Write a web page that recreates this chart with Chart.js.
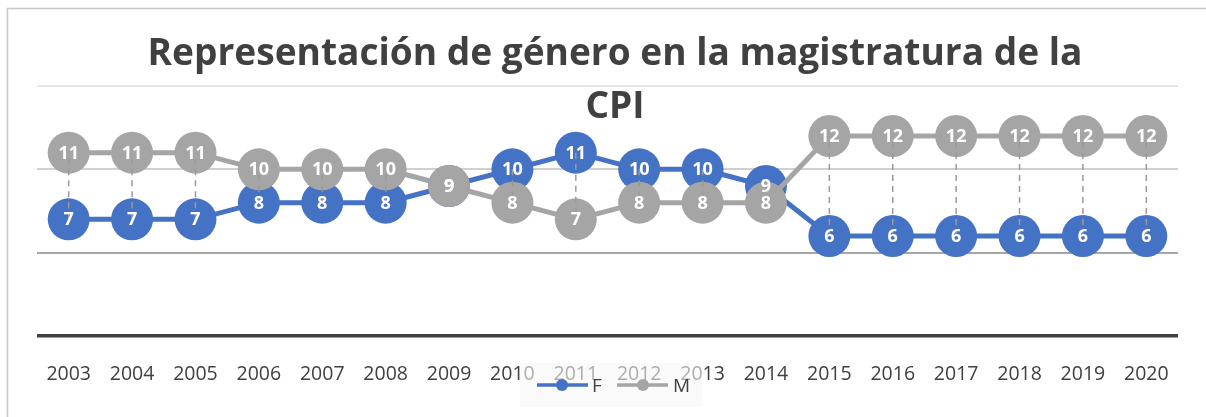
<!DOCTYPE html>
<html>
<head>
<meta charset="utf-8">
<script src="https://cdn.jsdelivr.net/npm/chart.js@4/dist/chart.umd.min.js"></script>
<style>
html,body{margin:0;padding:0;background:#fff;}
canvas{display:block;}
</style>
</head>
<body>
<canvas id="c" width="1206" height="417"></canvas>
<script>
const titleLines = ["Representación de género en la magistratura de la", "CPI"];
const years = ["2003","2004","2005","2006","2007","2008","2009","2010","2011","2012","2013","2014","2015","2016","2017","2018","2019","2020"];
const seriesF = [7,7,7,8,8,8,9,10,11,10,10,9,6,6,6,6,6,6];
const seriesM = [11,11,11,10,10,10,9,8,7,8,8,8,12,12,12,12,12,12];
const seriesNames = ["F", "M"];
const colorF = "#4472C4";
const colorM = "#A5A5A5";
const FONT = "'Open Sans', 'Liberation Sans', sans-serif";

const framePlugin = {
  id: 'frame',
  beforeDraw(chart) {
    const ctx = chart.ctx;
    ctx.save();
    ctx.fillStyle = '#fff';
    ctx.fillRect(0, 0, chart.width, chart.height);
    ctx.strokeStyle = '#c8c8c8';
    ctx.lineWidth = 1.5;
    ctx.beginPath();
    ctx.moveTo(7.5, chart.height);
    ctx.lineTo(7.5, 8.5);
    ctx.lineTo(chart.width, 8.5);
    ctx.stroke();
    ctx.restore();
  }
};

const overlayPlugin = {
  id: 'overlay',
  afterDatasetsDraw(chart) {
    const ctx = chart.ctx;
    const mF = chart.getDatasetMeta(0);
    const mM = chart.getDatasetMeta(1);
    ctx.save();
    // drop lines
    ctx.strokeStyle = '#9a9a9a';
    ctx.lineWidth = 1.5;
    ctx.setLineDash([6, 5]);
    for (let i = 0; i < mF.data.length; i++) {
      const a = mF.data[i], b = mM.data[i];
      if (Math.abs(a.y - b.y) < 1) continue;
      ctx.beginPath();
      ctx.moveTo(a.x, a.y);
      ctx.lineTo(b.x, b.y);
      ctx.stroke();
    }
    ctx.setLineDash([]);
    // data labels
    ctx.fillStyle = '#fff';
    ctx.font = "bold 18px " + FONT;
    ctx.textAlign = 'center';
    ctx.textBaseline = 'middle';
    [[mF, seriesF], [mM, seriesM]].forEach(([meta, vals]) => {
      meta.data.forEach((p, i) => ctx.fillText(String(vals[i]), p.x, p.y + 1));
    });
    ctx.restore();
  },
  afterDraw(chart) {
    const ctx = chart.ctx;
    ctx.save();
    // title
    ctx.fillStyle = '#404040';
    ctx.textAlign = 'center';
    ctx.textBaseline = 'alphabetic';
    let fs = 36;
    ctx.font = "bold " + fs + "px " + FONT;
    const w = ctx.measureText(titleLines[0]).width;
    fs = fs * 935 / w;
    ctx.font = "bold " + fs.toFixed(2) + "px " + FONT;
    ctx.fillText(titleLines[0], 615, 65);
    ctx.fillText(titleLines[1], 615, 118);
    // legend
    ctx.fillStyle = 'rgba(246,246,246,0.6)';
    ctx.fillRect(520, 363, 182, 44);
    const items = [[537, 588, 562, colorF, 592, seriesNames[0]], [617, 668, 643, colorM, 673, seriesNames[1]]];
    items.forEach(([x0, x1, xc, col, tx, name]) => {
      ctx.strokeStyle = col;
      ctx.lineWidth = 3.5;
      ctx.beginPath();
      ctx.moveTo(x0, 385);
      ctx.lineTo(x1, 385);
      ctx.stroke();
      ctx.fillStyle = col;
      ctx.beginPath();
      ctx.arc(xc, 385, 6, 0, Math.PI * 2);
      ctx.fill();
      ctx.fillStyle = '#404040';
      ctx.font = "19px " + FONT;
      ctx.textAlign = 'left';
      ctx.textBaseline = 'middle';
      ctx.fillText(name, tx, 387);
    });
    ctx.restore();
  }
};

new Chart(document.getElementById('c'), {
  type: 'line',
  data: {
    labels: years,
    datasets: [
      { label: seriesNames[0], data: seriesF, borderColor: colorF, backgroundColor: colorF,
        pointBackgroundColor: colorF, pointBorderWidth: 0, pointRadius: 21, borderWidth: 5, tension: 0, order: 2 },
      { label: seriesNames[1], data: seriesM, borderColor: colorM, backgroundColor: colorM,
        pointBackgroundColor: colorM, pointBorderWidth: 0, pointRadius: 21, borderWidth: 5, tension: 0, order: 1 }
    ]
  },
  options: {
    responsive: false,
    animation: false,
    events: [],
    layout: { padding: { left: 37, right: 28, top: 86, bottom: 0 } },
    plugins: { legend: { display: false }, title: { display: false }, tooltip: { enabled: false } },
    scales: {
      x: {
        offset: true,
        grid: { display: false, drawTicks: false },
        border: { display: false },
        ticks: { color: '#404040', font: { family: FONT, size: 19.5 }, padding: 27, maxRotation: 0, autoSkip: false },
        afterFit(s) { s.height = 81; }
      },
      y: {
        min: 0, max: 15,
        ticks: { display: false, stepSize: 5 },
        border: { display: false },
        grid: {
          drawTicks: false,
          color: (c) => { const v = c.tick.value; return v === 0 ? '#404040' : v === 5 ? '#a6a6a6' : v === 10 ? '#d0d0d0' : '#e6e6e6'; },
          lineWidth: (c) => { const v = c.tick.value; return v === 0 ? 3.5 : 2; }
        },
        afterFit(s) { s.width = 0; }
      }
    }
  },
  plugins: [framePlugin, overlayPlugin]
});
</script>
</body>
</html>
